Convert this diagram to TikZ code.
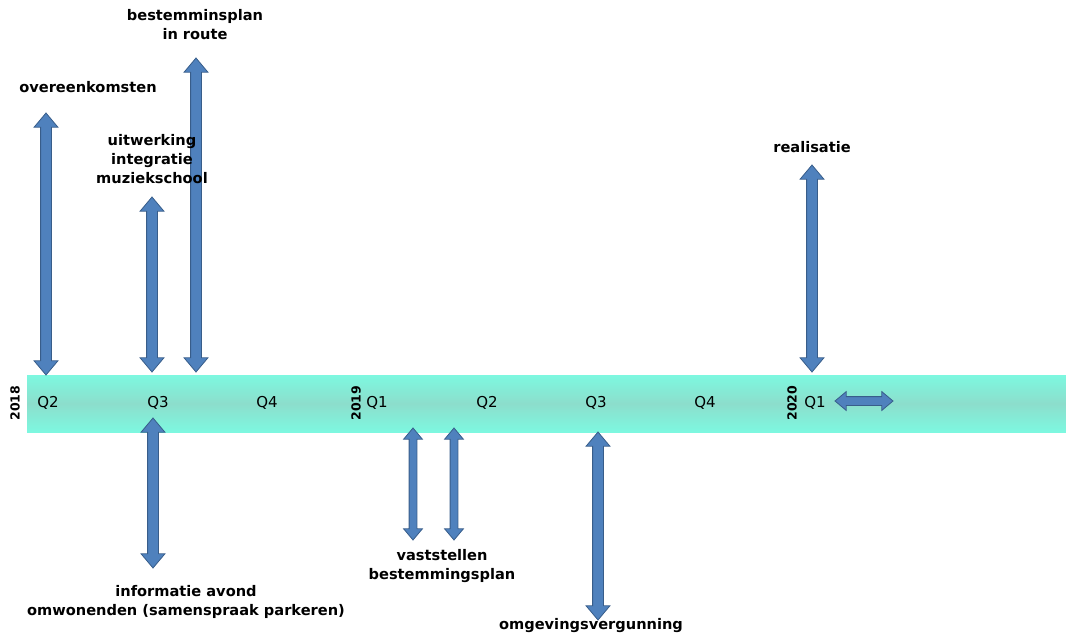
\documentclass[tikz,border=0pt]{standalone}
\usepackage{fontspec}
\setmainfont{DejaVu Sans}
\usetikzlibrary{shapes.arrows}
\definecolor{arrowblue}{RGB}{79,129,189}
\definecolor{arrowedge}{RGB}{56,93,138}
\definecolor{bandedge}{RGB}{125,248,224}
\definecolor{bandmid}{RGB}{140,222,204}
\tikzset{
  milestone/.style={double arrow, draw=arrowedge, fill=arrowblue, line width=0.8pt,
    inner xsep=0pt, inner ysep=5pt, outer sep=0pt, minimum width=23pt,
    double arrow head extend=6.5pt, double arrow tip angle=80, rotate=90},
  smallstone/.style={milestone, inner ysep=3.5pt, minimum width=18pt,
    double arrow head extend=5.5pt},
  task/.style={font=\bfseries\fontsize{14.6}{19}\selectfont, align=center, inner sep=0pt},
  quarter/.style={font=\fontsize{15}{15}\selectfont, inner sep=0pt},
  year/.style={font=\bfseries\fontsize{12.5}{12.5}\selectfont, rotate=90, inner sep=0pt},
}
\begin{document}
\begin{tikzpicture}[x=1pt,y=-1pt]
  \useasboundingbox (0,0) rectangle (1066,638);
  % timeline band
  \shade[top color=bandedge, bottom color=bandedge, middle color=bandmid]
    (27,375) rectangle (1066,432);

  % years and quarters
  \node[year] (y2018) at (15,403) {2018};
  \node[year] (y2019) at (356,403) {2019};
  \node[year] (y2020) at (792,403) {2020};
  \node[quarter] (q2a) at (48,403) {Q2};
  \node[quarter] (q3a) at (158,403) {Q3};
  \node[quarter] (q4a) at (267,403) {Q4};
  \node[quarter] (q1b) at (377,403) {Q1};
  \node[quarter] (q2b) at (487,403) {Q2};
  \node[quarter] (q3b) at (596,403) {Q3};
  \node[quarter] (q4b) at (705,403) {Q4};
  \node[quarter] (q1c) at (815,403) {Q1};

  % arrows above the band
  \node[milestone, minimum height=262pt] (arr_overeen) at (46,244) {};
  \node[milestone, minimum height=175pt] (arr_uitwerk) at (152,284.5) {};
  \node[milestone, minimum height=314pt] (arr_bplan) at (196,215) {};
  \node[milestone, minimum height=207pt] (arr_real) at (812,268.5) {};
  % arrows below the band
  \node[milestone, minimum height=150pt] (arr_info) at (153,493) {};
  \node[smallstone, minimum height=112pt] (arr_vast1) at (413,484) {};
  \node[smallstone, minimum height=112pt] (arr_vast2) at (454,484) {};
  \node[milestone, minimum height=188pt] (arr_omgev) at (598,526) {};
  % arrow inside the band
  \node[milestone, rotate=-90, inner ysep=4pt, minimum height=58pt, minimum width=18pt,
    double arrow head extend=5pt] (arr_verder) at (864,401) {};

  % labels
  \node[task] (lbl_overeen) at (88,87) {overeenkomsten};
  \node[task] (lbl_bplan) at (195,25) {bestemminsplan\\in route};
  \node[task] (lbl_uitwerk) at (152,159) {uitwerking\\integratie\\muziekschool};
  \node[task] (lbl_real) at (812,147) {realisatie};
  \node[task] (lbl_info) at (186,602) {informatie avond\\omwonenden (samenspraak parkeren)};
  \node[task] (lbl_vast) at (442,566) {vaststellen\\bestemmingsplan};
  \node[task] (lbl_omgev) at (591,626) {omgevingsvergunning};
\end{tikzpicture}
\end{document}
